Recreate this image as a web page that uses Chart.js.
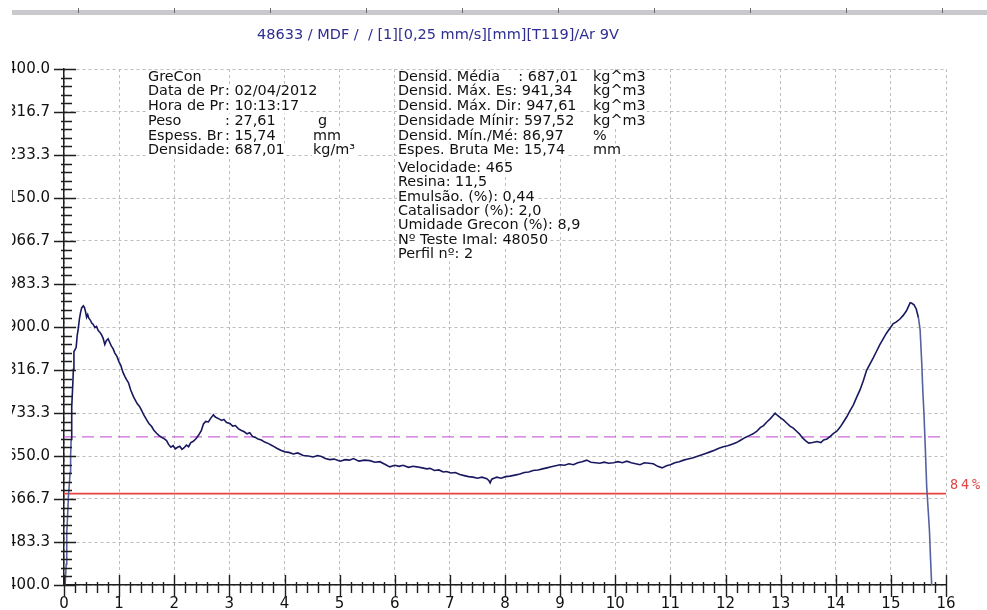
<!DOCTYPE html>
<html>
<head>
<meta charset="utf-8">
<script src="https://cdn.jsdelivr.net/npm/chart.js@4.4.0/dist/chart.umd.min.js"></script>
<style>
  html, body { margin:0; padding:0; background:#fff; }
  #wrap { position:absolute; left:12px; top:0; width:975px; height:610px; overflow:hidden; }
  #chart { position:absolute; left:-12px; top:0; width:987px; height:610px; }
</style>
</head>
<body>
<div id="wrap"><canvas id="chart" width="987" height="610"></canvas></div>
<script>
// density profile (mm / kg/m3)
const title = "48633 / MDF /  / [1][0,25 mm/s][mm][T119]/Ar 9V";

const thickness = [
  0.02,0.04,0.05,0.07,0.08,0.10,0.11,0.12,0.13,0.14,
  0.16,0.17,0.18,0.20,0.22,0.24,0.26,0.28,0.30,0.32,
  0.35,0.37,0.39,0.41,0.43,0.45,0.48,0.50,0.53,0.56,
  0.59,0.62,0.65,0.68,0.71,0.74,0.77,0.80,0.83,0.86,
  0.89,0.92,0.96,1.00,1.03,1.07,1.11,1.14,1.17,1.21,
  1.26,1.30,1.33,1.37,1.41,1.45,1.50,1.54,1.59,1.63,
  1.68,1.72,1.77,1.81,1.86,1.90,1.94,1.98,2.02,2.06,
  2.10,2.14,2.18,2.22,2.26,2.30,2.34,2.39,2.44,2.49,
  2.53,2.57,2.62,2.66,2.71,2.74,2.77,2.81,2.86,2.90,
  2.95,3.01,3.06,3.11,3.16,3.21,3.27,3.32,3.37,3.42,
  3.47,3.52,3.58,3.64,3.71,3.78,3.86,3.93,4.01,4.08,
  4.16,4.24,4.34,4.43,4.52,4.60,4.67,4.74,4.82,4.90,
  5.01,5.10,5.18,5.25,5.35,5.45,5.55,5.64,5.73,5.82,
  5.91,6.00,6.08,6.15,6.25,6.33,6.40,6.50,6.58,6.64,
  6.72,6.80,6.88,6.94,7.02,7.10,7.18,7.26,7.34,7.42,
  7.50,7.58,7.67,7.71,7.73,7.76,7.80,7.85,7.93,8.01,
  8.09,8.18,8.27,8.35,8.43,8.51,8.60,8.68,8.76,8.84,
  8.92,9.00,9.08,9.16,9.24,9.32,9.40,9.48,9.56,9.64,
  9.72,9.80,9.88,9.97,10.05,10.13,10.21,10.29,10.37,10.45,
  10.53,10.61,10.69,10.77,10.85,10.93,11.00,11.08,11.16,11.24,
  11.32,11.40,11.48,11.56,11.64,11.72,11.80,11.88,11.96,12.04,
  12.12,12.20,12.28,12.36,12.44,12.50,12.57,12.63,12.69,12.75,
  12.81,12.86,12.90,12.95,13.00,13.05,13.11,13.17,13.23,13.29,
  13.34,13.39,13.45,13.51,13.58,13.66,13.73,13.78,13.84,13.90,
  13.96,14.02,14.08,14.14,14.20,14.26,14.32,14.38,14.44,14.50,
  14.56,14.62,14.68,14.74,14.80,14.86,14.92,14.98,15.04,15.10,
  15.16,15.22,15.28,15.32,15.35,15.38,15.42,15.46,15.50,15.53,
  15.56,15.58,15.60,15.63,15.65,15.68,15.70,15.72,15.74
];
const density = [
  400,440,500,545,572,600,618,650,682,745,
  790,818,852,856,860,884,898,916,928,937,
  941,938,930,919,924,917,913,908,905,899,
  901,893,890,885,878,866,874,877,870,863,
  858,850,843,832,826,812,803,797,792,778,
  765,757,751,746,738,729,720,713,707,700,
  694,690,686,684,680,672,667,670,664,667,
  669,663,666,671,668,676,678,683,690,699,
  712,717,716,723,730,726,724,722,719,721,
  715,713,708,709,703,700,697,693,695,688,
  686,683,681,677,674,670,665,661,658,657,
  654,656,651,650,648,651,649,645,643,644,
  640,643,642,645,640,642,641,638,639,634,
  629,632,630,632,628,630,629,627,625,626,
  622,623,619,620,617,618,614,612,610,609,
  607,609,606,602,598,605,607,609,607,610,
  611,613,615,618,619,622,623,625,627,629,
  631,633,632,635,633,637,639,642,638,637,
  636,638,636,637,639,637,640,637,635,633,
  637,636,635,630,627,631,633,637,639,642,
  644,646,649,652,655,658,661,665,668,670,
  673,676,681,686,690,693,698,705,709,716,
  722,728,733,728,724,720,714,708,704,698,
  693,686,680,675,676,678,676,681,683,688,
  694,698,706,716,726,738,749,764,778,796,
  816,828,840,853,866,877,888,897,906,910,
  915,922,931,940,947,946,943,935,918,895,
  830,775,733,650,590,540,505,450,400
];

const meanDensity = 687.01;
const limitPct = 84;
const yTickValues = [400, 483.3, 566.7, 650, 733.3, 816.7, 900, 983.3, 1066.7, 1150, 1233.3, 1316.7, 1400];

const infoLeft = [
  ["GreCon", "", ""],
  ["Data de Pr", ": 02/04/2012", ""],
  ["Hora de Pr", ": 10:13:17", ""],
  ["Peso", ": 27,61", "g"],
  ["Espess. Br", ": 15,74", "mm"],
  ["Densidade", ": 687,01", "kg/m³"]
];
const infoRight = [
  ["Densid. Média    ", ": 687,01", "kg^m3"],
  ["Densid. Máx. Es", ": 941,34", "kg^m3"],
  ["Densid. Máx. Dir", ": 947,61", "kg^m3"],
  ["Densidade Mínir", ": 597,52", "kg^m3"],
  ["Densid. Mín./Mé", ": 86,97", "%"],
  ["Espes. Bruta Me", ": 15,74", "mm"]
];
const infoProcess = [
  "Velocidade: 465",
  "Resina: 11,5",
  "Emulsão. (%): 0,44",
  "Catalisador (%): 2,0",
  "Umidade Grecon (%): 8,9",
  "Nº Teste Imal: 48050",
  "Perfil nº: 2"
];

const el = (id)=>document.getElementById(id);
const FONT = "'DejaVu Sans', sans-serif";

function textBox(ctx, str, x, y){
  if (!str) return x;
  const w = ctx.measureText(str).width;
  ctx.fillStyle = "#fff";
  ctx.fillRect(x - 1, y - 7, w + 2, 14);
  ctx.fillStyle = "#111";
  ctx.fillText(str, x, y);
  return x + w;
}

const decor = {
  id: "decor",
  beforeDraw(chart){
    const ctx = chart.ctx;
    ctx.save();
    ctx.fillStyle = "#fff";
    ctx.fillRect(0, 0, chart.width, chart.height);
    // grey strip on top
    ctx.fillStyle = "#c9c9cd";
    ctx.fillRect(0, 10, chart.width, 5);
    ctx.strokeStyle = "#6a6a6a";
    ctx.lineWidth = 1;
    ctx.beginPath();
    for (let px = 78; px < chart.width; px += 96){
      ctx.moveTo(px + 0.5, 8);
      ctx.lineTo(px + 0.5, 13);
    }
    ctx.stroke();
    // title
    ctx.font = "14.5px " + FONT;
    ctx.fillStyle = "#2e2e92";
    ctx.textBaseline = "middle";
    ctx.fillText(title, 257, 35);
    ctx.restore();
  },
  afterDraw(chart){
    const {ctx, scales:{x, y}} = chart;
    ctx.save();
    ctx.font = "14.4px " + FONT;
    ctx.textBaseline = "middle";
    infoLeft.forEach(([a, b, c], i)=>{
      const ty = 77 + i * 14.7;
      textBox(ctx, a, 148, ty);
      textBox(ctx, b, 225, ty);
      textBox(ctx, c, c === "g" ? 318 : 313, ty);
    });
    infoRight.forEach(([a, b, c], i)=>{
      const ty = 77 + i * 14.7;
      const end = textBox(ctx, a, 398, ty);
      textBox(ctx, b, end, ty);
      textBox(ctx, c, 593, ty);
    });
    infoProcess.forEach((s, i)=>{
      textBox(ctx, s, 398, 168 + i * 14.4);
    });

    // crossing ticks on both axes
    ctx.strokeStyle = "#1e1e1e";
    ctx.lineWidth = 1.4;
    ctx.beginPath();
    const x0 = Math.round(x.left), y0 = Math.round(y.bottom);
    for (let i = 0; i <= 80; i++){
      const px = Math.round(x.getPixelForValue(i / 5)) + 0.5;
      const big = i % 5 === 0;
      ctx.moveTo(px, y0 - (big ? 10 : 3));
      ctx.lineTo(px, y0 + (big ? 12 : 8));
    }
    for (let i = 0; i <= 60; i++){
      const py = Math.round(y.getPixelForValue(400 + i * 1000 / 60)) + 0.5;
      const big = i % 5 === 0;
      ctx.moveTo(x0 - (big ? 10 : 3), py);
      ctx.lineTo(x0 + (big ? 12 : 8), py);
    }
    ctx.stroke();

    // limit label
    ctx.font = "13.5px 'DejaVu Sans Mono', monospace";
    ctx.fillStyle = "#e04646";
    const ly = y.getPixelForValue(meanDensity * limitPct / 100) - 8;
    const lbl = limitPct + "%";
    for (let i = 0; i < lbl.length; i++) ctx.fillText(lbl[i], 950 + i * 11, ly);
    ctx.restore();
  }
};

const profile = thickness.map((t, i)=>({ x: t, y: density[i] }));
const limit = meanDensity * limitPct / 100;

new Chart(el("chart"), {
  type: "scatter",
  data: {
    datasets: [
      { label: "Perfil", data: profile, showLine: true, pointRadius: 0,
        borderColor: "#18185f", borderWidth: 1.6,
        segment: { borderColor: c => (c.p0.parsed.x >= 15.5 || c.p0.parsed.x < 0.13) ? "#5662a0" : undefined } },
      { label: "Média", data: [{x:0, y:meanDensity}, {x:16, y:meanDensity}], showLine: true, pointRadius: 0,
        borderColor: "#c96bd8", borderWidth: 1.3, borderDash: [12, 6] },
      { label: "Limite", data: [{x:0, y:limit}, {x:16, y:limit}], showLine: true, pointRadius: 0,
        borderColor: "#e6423f", borderWidth: 1.7 }
    ]
  },
  options: {
    responsive: false,
    animation: false,
    devicePixelRatio: 1,
    layout: { padding: { top: 69, right: 41, left: 0, bottom: 0 } },
    plugins: { legend: { display: false }, tooltip: { enabled: false } },
    scales: {
      x: {
        type: "linear", min: 0, max: 16,
        afterFit: s => { s.height = 25; },
        ticks: { stepSize: 1, padding: 10, color: "#111", maxRotation: 0, autoSkip: false,
                 font: { family: "DejaVu Sans", size: 15 } },
        grid: { color: "#bdbdbd", lineWidth: 1, drawTicks: false },
        border: { display: true, color: "#1e1e1e", width: 1.5, dash: [3, 3] }
      },
      y: {
        type: "linear", min: 400, max: 1400,
        afterFit: s => { s.width = 64; },
        afterBuildTicks: s => { s.ticks = yTickValues.map(v => ({ value: v })); },
        ticks: { padding: 14, color: "#111", callback: v => Number(v).toFixed(1),
                 font: { family: "DejaVu Sans", size: 15 } },
        grid: { color: "#bdbdbd", lineWidth: 1, drawTicks: false },
        border: { display: true, color: "#1e1e1e", width: 1.5, dash: [3, 3] }
      }
    }
  },
  plugins: [decor]
});
</script>
</body>
</html>
